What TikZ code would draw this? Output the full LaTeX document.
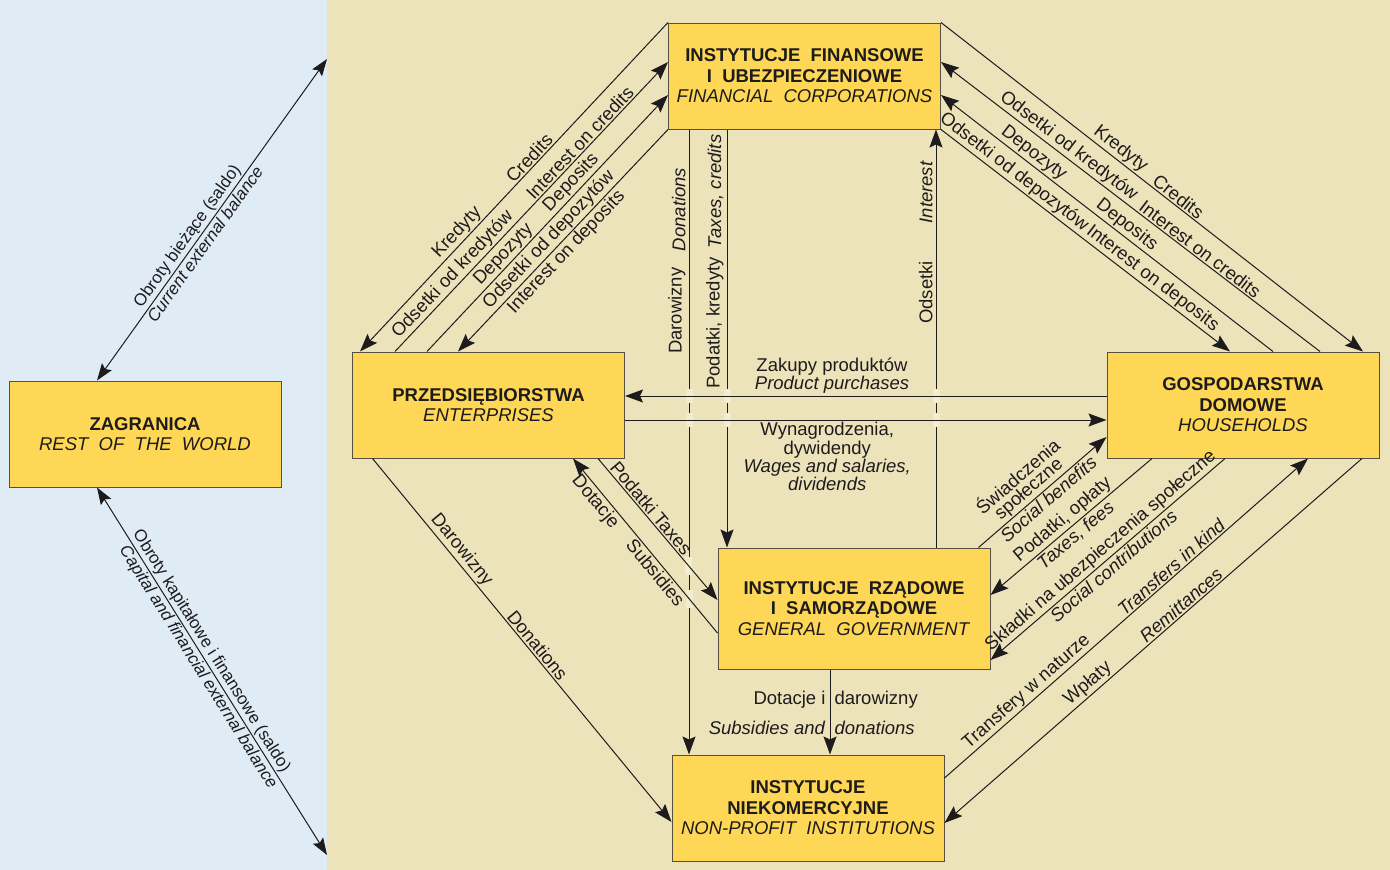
\documentclass[tikz,border=0pt]{standalone}
\usepackage{fontspec}
\setmainfont{Liberation Sans}
\usetikzlibrary{arrows.meta, calc, positioning}

\definecolor{worldblue}{RGB}{223,235,245}
\definecolor{sectorbg}{RGB}{237,227,187}
\definecolor{boxyellow}{RGB}{253,215,85}
\definecolor{boxedge}{RGB}{85,80,65}
\definecolor{ink}{RGB}{30,27,28}
\definecolor{hopfill}{RGB}{243,236,206}

\begin{document}
\begin{tikzpicture}[
    x=1pt, y=-1pt,
    box/.style={draw=boxedge, fill=boxyellow, line width=1pt, minimum width=272pt, minimum height=106pt, align=center, inner sep=0pt, text=ink, font=\fontsize{18.5}{20.5}\selectfont},
    arrow/.style={-{Stealth[length=18pt, width=13pt, inset=3pt]}, draw=ink, line width=1pt},
    dblarrow/.style={arrow, {Stealth[length=17pt, width=12pt, inset=3pt]}-{Stealth[length=17pt, width=12pt, inset=3pt]}},
    txt/.style={inner sep=2pt, text=ink, align=center, font=\fontsize{18.5}{15.5}\selectfont},
    lbl/.style={txt, sloped, inner sep=1.5pt},
    vlbl/.style={txt, rotate=90, inner sep=3pt},
    smalllbl/.style={lbl, font=\fontsize{17}{15}\selectfont}
]
    % panels
    \fill[worldblue] (0,0) rectangle (327,870);
    \fill[sectorbg] (327,0) rectangle (1390,870);

    % sectors
    \node[box] (row) at (145,434) {\textbf{ZAGRANICA}\\\textit{REST\ \ OF\ \ THE\ \ WORLD}};
    \node[box] (fin) at (804.5,76) {\textbf{INSTYTUCJE\ \ FINANSOWE}\\\textbf{I\ \ UBEZPIECZENIOWE}\\\textit{FINANCIAL\ \ CORPORATIONS}};
    \node[box] (ent) at (488.5,405) {\textbf{PRZEDSIĘBIORSTWA}\\\textit{ENTERPRISES}};
    \node[box] (hh) at (1243,405) {\textbf{GOSPODARSTWA}\\\textbf{DOMOWE}\\\textit{HOUSEHOLDS}};
    \node[box, minimum height=121pt] (gov) at (854,608.5) {\textbf{INSTYTUCJE\ \ RZĄDOWE}\\\textbf{I\ \ SAMORZĄDOWE}\\\textit{GENERAL\ \ GOVERNMENT}};
    \node[box] (npi) at (808,808) {\textbf{INSTYTUCJE}\\\textbf{NIEKOMERCYJNE}\\\textit{NON-PROFIT\ \ INSTITUTIONS}};

    % rest of the world
    \coordinate (curend) at (327,59);
    \coordinate (capend) at (327,855);
    \draw[dblarrow] ([xshift=-48pt]row.north) -- (curend)
        node[smalllbl, pos=0.43, above] {Obroty bieżące (saldo)}
        node[smalllbl, pos=0.44, below] {\textit{Current external balance}};
    \draw[dblarrow] ([xshift=-48pt]row.south) -- (capend)
        node[smalllbl, pos=0.46, above] {Obroty kapitałowe i finansowe (saldo)}
        node[smalllbl, pos=0.475, below] {\textit{Capital and financial external balance}};

    % vertical flows
    \coordinate (dar) at ([xshift=-115.5pt]fin.south);
    \coordinate (darend) at (dar |- npi.north);
    \coordinate (pod) at ([xshift=-77.5pt]fin.south);
    \coordinate (ods) at ([xshift=82pt]gov.north);
    \draw[arrow] (dar) -- (darend)
        node[vlbl, pos=0.128, above] {\textit{Donations}}
        node[vlbl, pos=0.29, above] {Darowizny};
    \draw[arrow] (pod) -- (pod |- gov.north)
        node[vlbl, pos=0.148, above] {\textit{Taxes, credits}}
        node[vlbl, pos=0.463, above] {Podatki, kredyty};
    \draw[arrow] (ods) -- (ods |- fin.south)
        node[vlbl, pos=0.85, above] {\textit{Interest}}
        node[vlbl, pos=0.61, above] {Odsetki};

    % line hops
    \coordinate (zak) at ([yshift=9pt]hh.west);
    \coordinate (wyn) at ([yshift=-15pt]ent.east);
    \coordinate (taxa) at ([xshift=109.5pt]ent.south);
    \coordinate (taxb) at ([yshift=8.5pt]gov.west);
    \coordinate (suba) at ([yshift=-24.5pt]gov.west);
    \coordinate (subb) at ([xshift=84.5pt]ent.south);
    \coordinate (hop1) at (intersection of taxa--taxb and dar--darend);
    \coordinate (hop2) at (intersection of suba--subb and dar--darend);
    \fill[hopfill] ($(dar |- zak)+(-3.5,-7)$) rectangle ($(dar |- zak)+(3.5,7)$);
    \fill[hopfill] ($(dar |- wyn)+(-3.5,-7)$) rectangle ($(dar |- wyn)+(3.5,7)$);
    \fill[hopfill] ($(pod |- zak)+(-3.5,-7)$) rectangle ($(pod |- zak)+(3.5,7)$);
    \fill[hopfill] ($(pod |- wyn)+(-3.5,-7)$) rectangle ($(pod |- wyn)+(3.5,7)$);
    \fill[hopfill] ($(ods |- zak)+(-3.5,-7)$) rectangle ($(ods |- zak)+(3.5,7)$);
    \fill[hopfill] ($(ods |- wyn)+(-3.5,-7)$) rectangle ($(ods |- wyn)+(3.5,7)$);
    \fill[hopfill] ($(hop1)+(-3.5,-9)$) rectangle ($(hop1)+(3.5,9)$);
    \fill[hopfill] ($(hop2)+(-3.5,-9)$) rectangle ($(hop2)+(3.5,9)$);

    % enterprises <-> households
    \draw[arrow] (zak) -- (zak -| ent.east)
        node[txt, pos=0.57, above] {Zakupy produktów\\\textit{Product purchases}};
    \draw[arrow] (wyn) -- (wyn -| hh.west)
        node[txt, pos=0.42, below, font=\fontsize{18.5}{16.5}\selectfont] {Wynagrodzenia,\\dywidendy\\\textit{Wages and salaries,}\\\textit{dividends}};

    % financial corporations <-> enterprises
    \draw[arrow] (fin.north west) -- ([xshift=-128.5pt]ent.north)
        node[lbl, pos=0.43, above] {Credits}
        node[lbl, pos=0.66, above] {Kredyty};
    \draw[arrow] ([xshift=-93.5pt]ent.north) -- ([yshift=14pt]fin.west)
        node[lbl, pos=0.24, above] {Odsetki od kredytów}
        node[lbl, pos=0.70, above] {Interest on credits};
    \draw[arrow] ([xshift=-61.5pt]ent.north) -- ([yshift=-19pt]fin.west)
        node[lbl, pos=0.35, above] {Depozyty}
        node[lbl, pos=0.63, above] {Deposits};
    \draw[arrow] (fin.south west) -- ([xshift=-30.5pt]ent.north)
        node[lbl, pos=0.53, above] {Odsetki od depozytów}
        node[lbl, pos=0.52, below] {Interest on deposits};

    % financial corporations <-> households
    \draw[arrow] (fin.north east) -- ([xshift=120pt]hh.north)
        node[lbl, pos=0.41, above] {Kredyty}
        node[lbl, pos=0.55, above] {Credits};
    \draw[arrow] ([xshift=77pt]hh.north) -- ([yshift=14pt]fin.east)
        node[lbl, pos=0.68, above] {Odsetki od kredytów}
        node[lbl, pos=0.33, above] {Interest on credits};
    \draw[arrow] ([xshift=30pt]hh.north) -- ([yshift=-19pt]fin.east)
        node[lbl, pos=0.74, above] {Depozyty}
        node[lbl, pos=0.46, above] {Deposits};
    \draw[arrow] (fin.south east) -- ([xshift=-13pt]hh.north)
        node[lbl, pos=0.23, above] {Odsetki od depozytów}
        node[lbl, pos=0.71, above] {Interest on deposits};

    % enterprises <-> government, non-profit
    \draw[arrow] (taxa) -- (taxb)
        node[lbl, pos=0.39, above] {Podatki Taxes};
    \draw[arrow] (suba) -- (subb)
        node[lbl, pos=0.79, below] {Dotacje}
        node[lbl, pos=0.38, below] {Subsidies};
    \draw[arrow] ([xshift=-116pt]ent.south) -- ([yshift=-14pt]npi.west)
        node[lbl, pos=0.27, above] {Darowizny}
        node[lbl, pos=0.53, above] {Donations};

    % government -> non-profit
    \draw[arrow] ([xshift=-24pt]gov.south) -- ([xshift=-24pt]gov.south |- npi.north)
        node[txt, pos=0.36, left, inner xsep=4pt] {Dotacje i}
        node[txt, pos=0.36, right, inner xsep=4pt] {darowizny}
        node[txt, pos=0.69, left, inner xsep=4pt] {\textit{Subsidies and}}
        node[txt, pos=0.69, right, inner xsep=4pt] {\textit{donations}};

    % households <-> government, non-profit
    \draw[arrow] ([xshift=-12pt]gov.north east) -- ([yshift=-32pt]hh.west)
        node[lbl, pos=0.45, above] {Świadczenia\\społeczne}
        node[lbl, pos=0.50, below] {\textit{Social benefits}};
    \draw[arrow] ([xshift=-91pt]hh.south) -- ([yshift=13.5pt]gov.east)
        node[lbl, pos=0.51, above] {Podatki, opłaty}
        node[lbl, pos=0.51, below] {\textit{Taxes, fees}};
    \draw[arrow] ([xshift=-18pt]hh.south) -- ([yshift=-51.5pt]gov.east)
        node[lbl, pos=0.50, above] {Składki na ubezpieczenia społeczne}
        node[lbl, pos=0.50, below] {\textit{Social contributions}};
    \draw[arrow] ([yshift=30pt]npi.east) -- ([xshift=65pt]hh.south)
        node[lbl, pos=0.245, above] {Transfery w naturze}
        node[lbl, pos=0.64, above] {\textit{Transfers in kind}};
    \draw[arrow] ([xshift=119pt]hh.south) -- ([yshift=-15pt]npi.east)
        node[lbl, pos=0.64, above] {Wpłaty}
        node[lbl, pos=0.42, above] {\textit{Remittances}};
\end{tikzpicture}
\end{document}
